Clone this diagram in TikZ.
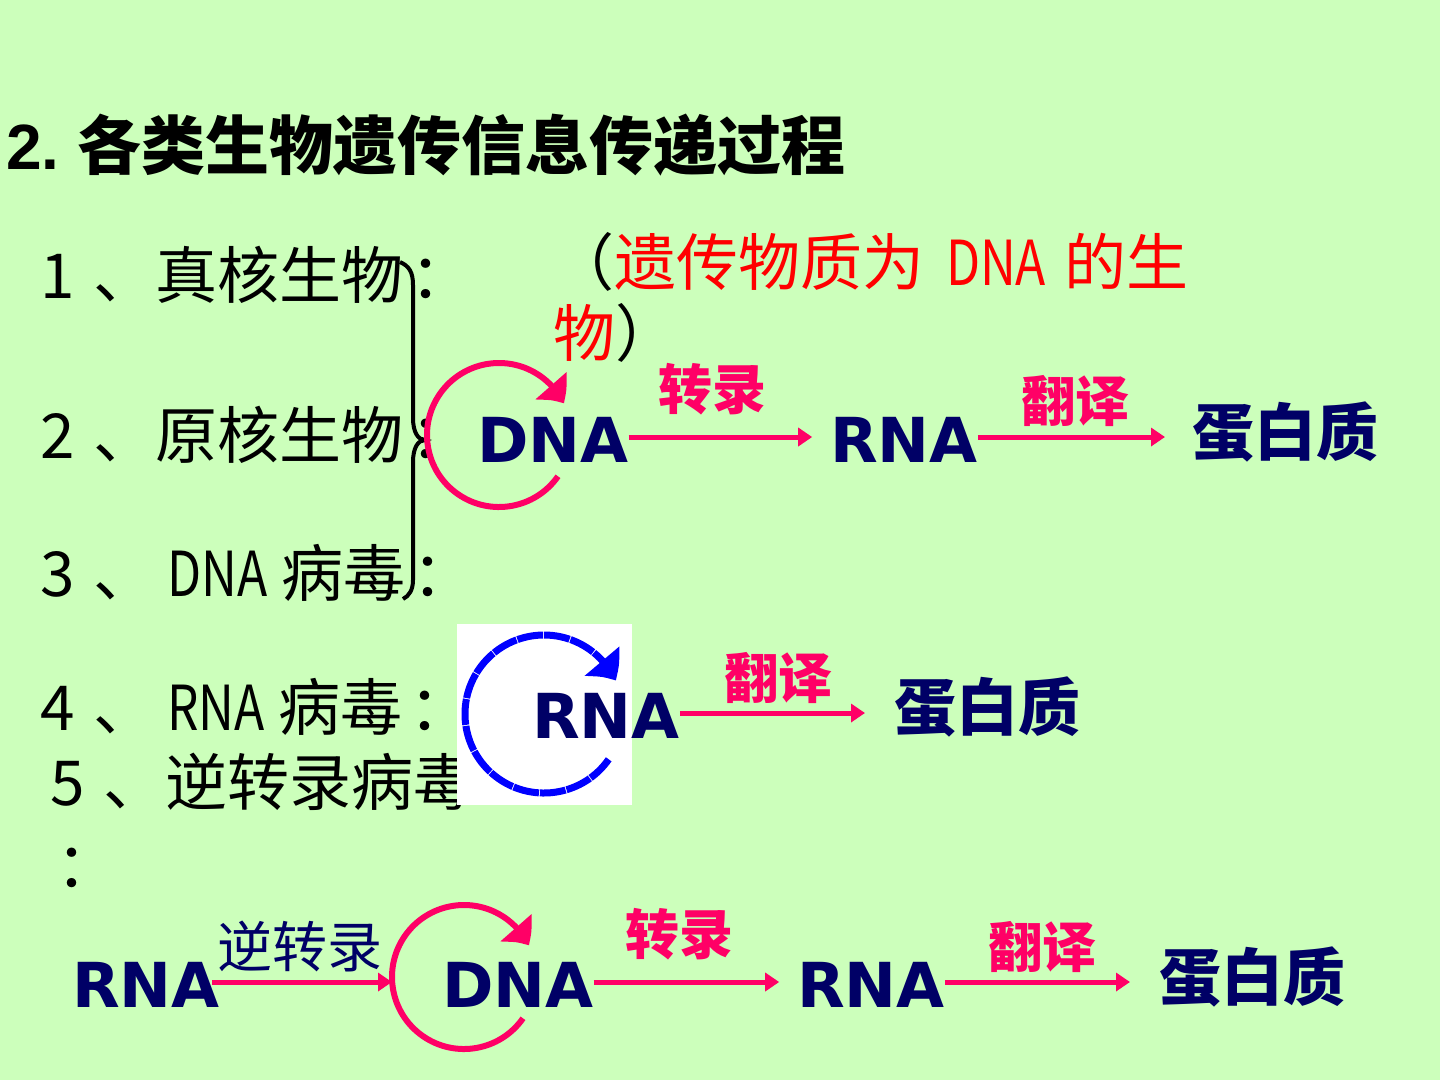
\documentclass[tikz,border=0pt]{standalone}
\usepackage{fontspec}
\usepackage{graphicx}
\setmainfont{Liberation Sans}
\newfontfamily\cjk{Noto Sans CJK SC}
\newfontfamily\dv{DejaVu Sans}
\usetikzlibrary{arrows.meta,bending}
\definecolor{bggreen}{RGB}{204,255,187}
\definecolor{navy}{RGB}{0,0,102}
\definecolor{hotpink}{RGB}{255,0,102}
\definecolor{pureblue}{RGB}{0,0,255}
\newcommand{\fs}[1]{\fontsize{#1}{#1}\selectfont}
\newcommand{\nar}[1]{\scalebox{0.8}[1]{#1}}
\newcommand{\colonmark}{\hspace{7pt}：}
\begin{document}
\begin{tikzpicture}[x=1pt,y=1pt,
  txt/.style={inner sep=0pt, outer sep=0pt},
  listline/.style={txt, anchor=west, font=\cjk\fs{62}},
  mol/.style={txt, text=navy, font=\dv\bfseries\fs{62}},
  prot/.style={txt, text=navy, font=\cjk\bfseries\fs{62}},
  enz/.style={txt, text=hotpink, font=\cjk\bfseries\fs{54}},
  flow/.style={draw=hotpink, line width=5pt, -{Triangle[width=18pt,length=14pt]}},
  looppink/.style={draw=hotpink, line width=6pt, -{Triangle[width=40pt,length=22pt,bend]}},
  loopblue/.style={draw=pureblue, line width=7pt, dash pattern=on 26pt off 1pt, -{Triangle[width=44pt,length=24pt,bend]}},
  bracestyle/.style={draw=black, line width=4pt},
  ghost/.style={circle, inner sep=0pt, outer sep=0pt, minimum size=#1}
]
\fill[bggreen] (0,0) rectangle (1440,-1080);
\useasboundingbox (0,0) rectangle (1440,-1080);

% title
\node[txt, anchor=west, font=\fs{64}] (title) at (6,-145) {\bfseries 2.\hspace{18pt}{\cjk\bfseries 各类生物遗传信息传递过程}};

% list
\node[listline] (l1) at (40,-275) {1\hspace{19pt}、真核生物\colonmark};
\node[listline] (l2) at (40,-435) {2\hspace{19pt}、原核生物\colonmark};
\node[listline] (l3) at (40,-573) {3\hspace{19pt}、\hspace{12pt}\nar{DNA}\hspace{14pt}病毒\colonmark};
\node[listline] (l4) at (40,-707) {4\hspace{19pt}、\hspace{12pt}\nar{RNA}\hspace{14pt}病毒\colonmark};
\node[listline] (l5) at (50,-782) {5\hspace{19pt}、逆转录病毒};
\node[listline] (l5c) at (56,-868) {：};

% red note
\node[txt, anchor=west, font=\cjk\fs{62}] (note1) at (552,-262) {（\textcolor{red}{遗传物质为\hspace{22pt}\nar{DNA}\hspace{18pt}的生}};
\node[txt, anchor=west, font=\cjk\fs{62}] (note2) at (553,-333) {\textcolor{red}{物}）};

% brace
\draw[bracestyle] (400,-262) .. controls (409,-266) and (413,-272) .. (413,-285)
  -- (413,-418) .. controls (413,-432) and (418,-440) .. (425,-440)
  .. controls (418,-440) and (413,-448) .. (413,-462)
  -- (413,-580) .. controls (413,-590) and (409,-596) .. (403,-599);

% white patch
\node[fill=white, draw=none, inner sep=0pt, minimum width=175pt, minimum height=181pt, anchor=north west] (patch) at (457,-624) {};

% row 1
\node[ghost=144pt] (loop1) at (499,-435) {};
\draw[looppink] ([shift={(-35:72)}]loop1.center) arc[start angle=-35, end angle=-334, radius=72];
\node[mol] (dna1) at (553,-440) {DNA};
\node[mol] (rna1) at (904,-440) {RNA};
\node[prot] (prot1) at (1285,-432) {蛋白质};
\node[enz] (tr1) at (712,-389) {转录};
\node[enz] (tl1) at (1075,-401) {翻译};
\draw[flow, shorten >=18pt] ([yshift=3pt]dna1.east) -- ([yshift=3pt]rna1.west);
\draw[flow, shorten >=27pt] ([yshift=3pt]rna1.east) -- ([yshift=3pt]rna1.east -| prot1.west);

% row 2
\node[ghost=158pt] (loop2) at (544,-714) {};
\draw[loopblue] ([shift={(-35:79)}]loop2.center) arc[start angle=-35, end angle=-335, radius=79];
\node[mol] (rna2) at (606,-716) {RNA};
\node[prot] (prot2) at (987,-707) {蛋白质};
\node[enz] (tl2) at (778,-678) {翻译};
\draw[flow, shorten >=29pt] ([yshift=3pt]rna2.east) -- ([yshift=3pt]rna2.east -| prot2.west);

% row 3
\node[ghost=144pt] (loop3) at (464,-977) {};
\draw[looppink] ([shift={(-35:72)}]loop3.center) arc[start angle=-35, end angle=-334, radius=72];
\node[mol] (rna3) at (146,-985) {RNA};
\node[mol] (dna3) at (518,-985) {DNA};
\node[mol] (rna3b) at (871,-985) {RNA};
\node[prot] (prot3) at (1252,-977) {蛋白质};
\node[txt, text=navy, font=\cjk\fs{55}] (rt3) at (300,-946) {逆转录};
\node[enz] (tr3) at (679,-934) {转录};
\node[enz] (tl3) at (1042,-947) {翻译};
\draw[flow] ([xshift=-8pt,yshift=3pt]rna3.east) -- ([yshift=3pt]rna3.east -| loop3.west);
\draw[flow, shorten >=18pt] ([yshift=3pt]dna3.east) -- ([yshift=3pt]rna3b.west);
\draw[flow, shorten >=29pt] ([yshift=3pt]rna3b.east) -- ([yshift=3pt]rna3b.east -| prot3.west);
\end{tikzpicture}
\end{document}
